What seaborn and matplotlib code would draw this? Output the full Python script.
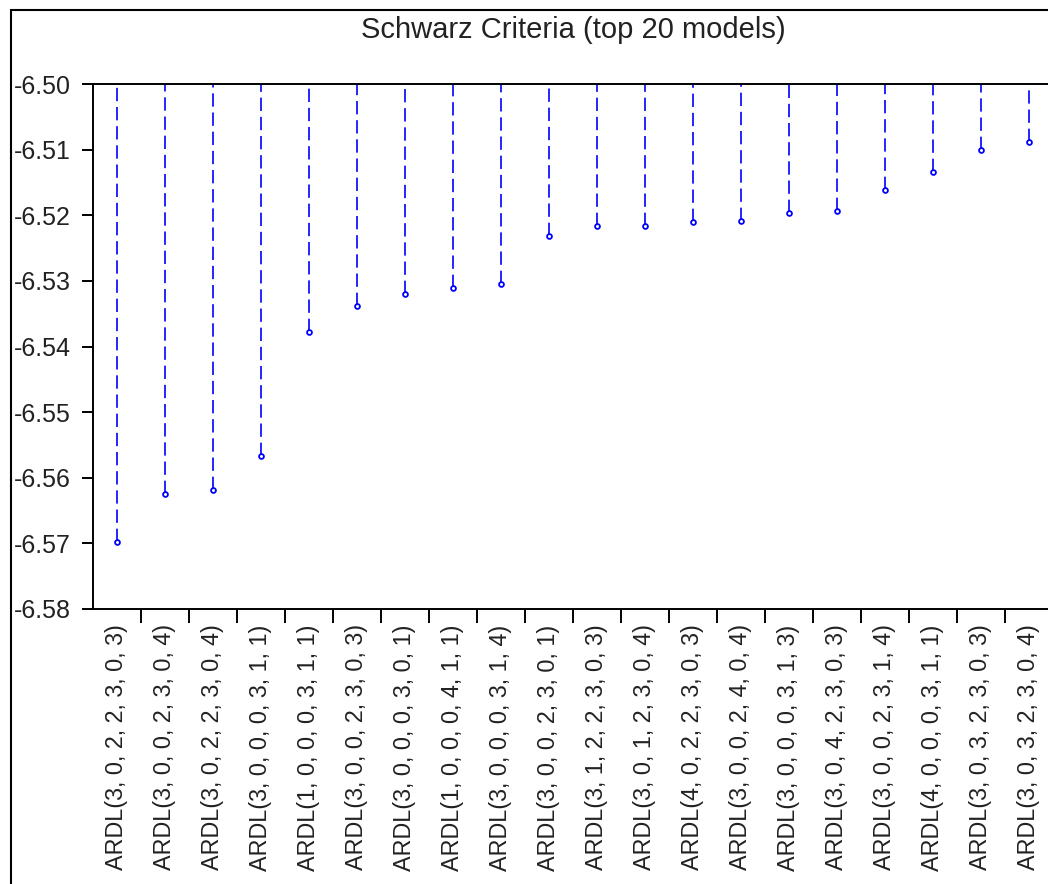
import numpy as np
import pandas as pd
import matplotlib
matplotlib.use("Agg")
import matplotlib.pyplot as plt
from matplotlib.patches import Rectangle
from matplotlib.ticker import FixedLocator, FormatStrFormatter
import seaborn as sns

# model labels (top 20 by Schwarz criterion)
models = [
    "ARDL(3, 0, 2, 2, 3, 0, 3)", "ARDL(3, 0, 0, 2, 3, 0, 4)", "ARDL(3, 0, 2, 2, 3, 0, 4)",
    "ARDL(3, 0, 0, 0, 3, 1, 1)", "ARDL(1, 0, 0, 0, 3, 1, 1)", "ARDL(3, 0, 0, 2, 3, 0, 3)",
    "ARDL(3, 0, 0, 0, 3, 0, 1)", "ARDL(1, 0, 0, 0, 4, 1, 1)", "ARDL(3, 0, 0, 0, 3, 1, 4)",
    "ARDL(3, 0, 0, 2, 3, 0, 1)", "ARDL(3, 1, 2, 2, 3, 0, 3)", "ARDL(3, 0, 1, 2, 3, 0, 4)",
    "ARDL(4, 0, 2, 2, 3, 0, 3)", "ARDL(3, 0, 0, 2, 4, 0, 4)", "ARDL(3, 0, 0, 0, 3, 1, 3)",
    "ARDL(3, 0, 4, 2, 3, 0, 3)", "ARDL(3, 0, 0, 2, 3, 1, 4)", "ARDL(4, 0, 0, 0, 3, 1, 1)",
    "ARDL(3, 0, 3, 2, 3, 0, 3)", "ARDL(3, 0, 3, 2, 3, 0, 4)",
]

# Schwarz criterion values
sc = [
    -6.5698, -6.5625, -6.5619, -6.5567, -6.5378, -6.5338, -6.5320, -6.5311, -6.5305, -6.5232,
    -6.5216, -6.5216, -6.5210, -6.5209, -6.5197, -6.5194, -6.5162, -6.5134, -6.5101, -6.5088,
]

y_top = -6.50
y_bottom = -6.58
y_ticks = [-6.58, -6.57, -6.56, -6.55, -6.54, -6.53, -6.52, -6.51, -6.50]

df = pd.DataFrame({"model": models, "sc": sc})

sns.set_style("ticks")
plt.rcParams["font.family"] = ["Liberation Sans", "DejaVu Sans"]

W, H = 1048, 884
fig = plt.figure(figsize=(W / 100, H / 100), dpi=100)
ax = fig.add_axes([93 / W, 1 - 609 / H, 960 / W, (609 - 84) / H])

# dashed stems hanging from the top of the axis
ax.vlines(df["model"], df["sc"], y_top, colors="#0000FF", linewidth=1.2,
          linestyles=(0, (8, 3.5)))
sns.scatterplot(data=df, x="model", y="sc", ax=ax, marker="o", s=12,
                facecolor="white", edgecolor="#0000FF", linewidth=1.3, zorder=3)

ax.set_xlim(-0.5, len(models) - 0.5)
ax.set_ylim(y_bottom, y_top)
ax.set_yticks(y_ticks)
ax.yaxis.set_major_formatter(FormatStrFormatter("%.2f"))
ax.set_xticks(range(len(models)))
ax.set_xticklabels(models, rotation=90)
ax.xaxis.set_minor_locator(FixedLocator(np.arange(0.5, len(models) - 0.5, 1)))

ax.tick_params(axis="x", which="major", length=0, pad=11, labelsize=16.8, colors="#222222")
ax.tick_params(axis="x", which="minor", length=10, width=1.4, color="black")
ax.tick_params(axis="y", length=8, width=1.4, pad=8, labelsize=18, colors="#222222")
ax.tick_params(axis="both", color="black")

ax.set_xlabel("")
ax.set_ylabel("")
for side in ["left", "top", "bottom", "right"]:
    ax.spines[side].set_color("black")
    ax.spines[side].set_linewidth(1.4)

ax.set_title("Schwarz Criteria (top 20 models)", fontsize=21, pad=33, color="#222222")

# outer frame of the exported graph (runs off the right and bottom edges)
fig.patches.append(Rectangle((11 / W, -0.2), 1.2, 1 - 10 / H + 0.2,
                             transform=fig.transFigure, fill=False,
                             edgecolor="black", linewidth=1.5))

fig.savefig("out.png", dpi=100)
